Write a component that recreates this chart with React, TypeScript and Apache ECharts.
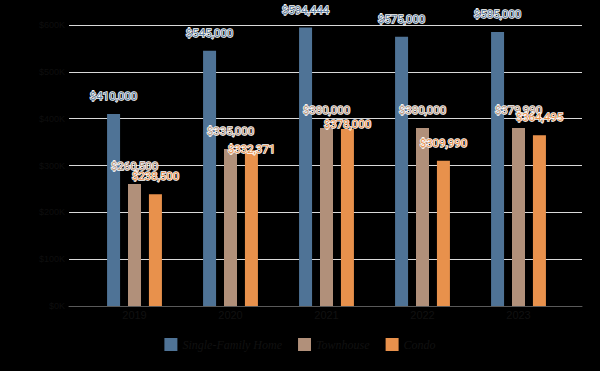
import React, { useEffect, useRef } from "react";
import * as echarts from "echarts";

const categories = ["2019", "2020", "2021", "2022", "2023"];
const singleFamily = [410000, 545000, 594444, 575000, 585000];
const townhouse = [260500, 335000, 380000, 380000, 379990];
const condo = [238500, 332371, 378000, 309990, 364495];
// vertical nudges (px) applied to data labels that were pushed down in the original
const condoLabelShift = [0, 17, 13, 0, 0];
const seriesNames = ["Single-Family Home", "Townhouse", "Condo"];
const colors = ["#4F7396", "#B1907A", "#E8914C"];
const labelColors = ["#5B7C9C", "#B8977F", "#E8914C"];

const fmt = (v: number) => "$" + v.toLocaleString("en-US");

export default function App() {
  const ref = useRef<HTMLDivElement>(null);
  useEffect(() => {
    if (!ref.current) return;
    const chart = echarts.init(ref.current, null, { renderer: "svg" });
    const shifts = [null, null, condoLabelShift];
    const data = [singleFamily, townhouse, condo];
    chart.setOption({
      animation: false,
      backgroundColor: "#000",
      grid: [
        { left: 69, right: 18, top: 25, bottom: 65 },
        { left: 86.5, right: 33.5, top: 25, bottom: 65 },
      ],
      legend: {
        data: seriesNames,
        bottom: 15,
        left: "center",
        itemWidth: 13,
        itemHeight: 13,
        itemGap: 16,
        icon: "rect",
        textStyle: {
          color: "#111",
          fontFamily: "Liberation Serif",
          fontStyle: "italic",
          fontSize: 12,
        },
      },
      xAxis: [
        {
          type: "category",
          gridIndex: 0,
          data: categories,
          axisLine: { show: true, lineStyle: { color: "#595959", width: 1 } },
          axisTick: { show: false },
          axisLabel: { show: false },
        },
        {
          type: "category",
          gridIndex: 1,
          data: categories,
          axisLine: { show: false },
          axisTick: { show: false },
          axisLabel: { color: "#111", fontSize: 11, margin: 3 },
        },
      ],
      yAxis: [
        {
          type: "value",
          gridIndex: 0,
          min: 0,
          max: 600000,
          interval: 100000,
          axisLine: { show: false },
          axisTick: { show: false },
          axisLabel: {
            color: "#0e0e0e",
            fontSize: 9,
            margin: 4,
            formatter: (v: number) => "$" + v / 1000 + "K",
          },
          splitLine: { lineStyle: { color: "#d9d9d9", width: 1 } },
        },
        {
          type: "value",
          gridIndex: 1,
          min: 0,
          max: 600000,
          interval: 100000,
          show: false,
          splitLine: { show: false },
        },
      ],
      series: seriesNames.map((name, i) => ({
        name,
        type: "bar",
        xAxisIndex: 1,
        yAxisIndex: 1,
        data: data[i].map((v, j) => {
          const s = shifts[i];
          return s && s[j] ? { value: v, label: { offset: [0, s[j]] } } : v;
        }),
        barWidth: 13,
        barGap: "61%",
        itemStyle: { color: colors[i] },
        label: {
          show: true,
          position: "top",
          distance: 12,
          formatter: (p: any) => fmt(p.value),
          color: labelColors[i],
          fontFamily: "Roboto",
          fontSize: 11.5,
          textBorderColor: "#fff",
          textBorderWidth: 1.5,
        },
      })),
    });
    return () => chart.dispose();
  }, []);
  return (
    <div
      ref={ref}
      style={{ position: "absolute", left: 0, top: 0, width: 600, height: 371, background: "#000" }}
    />
  );
}
